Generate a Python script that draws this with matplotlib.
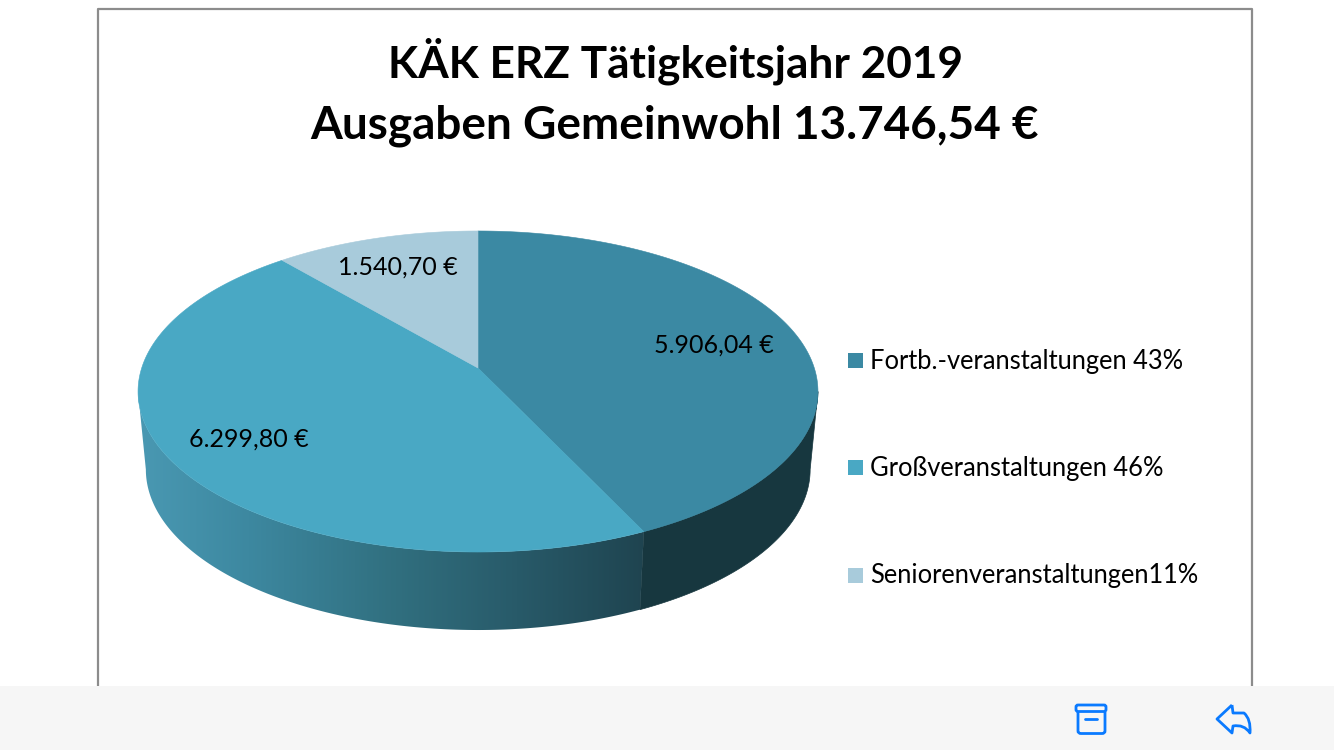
import numpy as np
import matplotlib
matplotlib.use('Agg')
import matplotlib.pyplot as plt
from matplotlib.colors import LinearSegmentedColormap
from matplotlib.patches import FancyBboxPatch, PathPatch, Polygon, Rectangle
from matplotlib.path import Path

plt.rcParams['font.family'] = ['Lato', 'DejaVu Sans']

title_lines = ['KÄK ERZ Tätigkeitsjahr 2019', 'Ausgaben Gemeinwohl 13.746,54 €']
values = [5906.04, 6299.80, 1540.70]
value_labels = ['5.906,04 €', '6.299,80 €', '1.540,70 €']
legend_labels = ['Fortb.-veranstaltungen 43%', 'Großveranstaltungen 46%', 'Seniorenveranstaltungen11%']
top_colors = ['#3b89a3', '#49a8c4', '#a8cbdb']

BLUE = '#0a7aff'
TILT = 0.1464


def top_rim(theta):
    # perspective view of the pie disc, theta runs clockwise from 12 o'clock
    u, v = np.sin(theta), np.cos(theta)
    w = 1 + TILT * v
    return 478 + 336.3 * u / w, (368 - 103.2 * v) / w


def bottom_rim(theta):
    x, y = top_rim(theta)
    return 478 + (x - 478) * 0.977, y + 78


fig = plt.figure(figsize=(13.34, 7.5), dpi=100)
ax = fig.add_axes([0, 0, 1, 1])
ax.set_xlim(0, 1334)
ax.set_ylim(750, 0)
ax.axis('off')

# chart frame, cut off by the bar at the bottom
ax.plot([98, 98, 1252, 1252], [686, 9, 9, 686], color='#8c8c8c', lw=1.6, zorder=1)

edges = 2 * np.pi * np.concatenate([[0], np.cumsum(values)]) / np.sum(values)

# side walls, only the front of the rim shows
right_limit = np.arccos(-TILT)
left_limit = 2 * np.pi - right_limit
side_cmap = LinearSegmentedColormap.from_list(
    'side', [(0, '#4a99b3'), (0.22, '#3d88a0'), (0.5, '#317080'), (0.75, '#285a69'), (1, '#1f4450')])
for i in range(2):
    t = np.linspace(max(edges[i], right_limit), min(edges[i + 1], left_limit), 300)
    xt, yt = top_rim(t)
    xb, yb = bottom_rim(t)
    pts = np.column_stack([np.r_[xt, xb[::-1]], np.r_[yt, yb[::-1]]])
    if i == 0:
        ax.add_patch(Polygon(pts, closed=True, fc='#17373f', ec='#17373f', lw=0.5, zorder=2))
    else:
        im = ax.imshow(np.linspace(0, 1, 256)[None, :], cmap=side_cmap, aspect='auto',
                       extent=[136, 645, 640, 230], zorder=2)
        im.set_clip_path(Polygon(pts, closed=True, transform=ax.transData))
ax.set_xlim(0, 1334)
ax.set_ylim(750, 0)

# top of the pie
apex = 478, 368
for i in range(3):
    t = np.linspace(edges[i], edges[i + 1], 300)
    x, y = top_rim(t)
    pts = np.column_stack([np.r_[apex[0], x], np.r_[apex[1], y]])
    ax.add_patch(Polygon(pts, closed=True, fc=top_colors[i], ec=top_colors[i], lw=0.4, zorder=3))

label_x = [714, 249, 398]
label_y = [345, 439, 267]
for lab, x, y in zip(value_labels, label_x, label_y):
    ax.text(x, y, lab, fontsize=18, color='black', ha='center', va='center', zorder=4)

for line, y, size in zip(title_lines, [61.5, 125.5], [31.8, 33.0]):
    ax.text(675, y, line, fontsize=size, fontweight='bold', color='black', ha='center', va='center')

# legend
for lab, col, y in zip(legend_labels, top_colors, [360, 467.5, 575]):
    ax.add_patch(Rectangle((848, y - 7.5), 15, 15, fc=col, ec='none'))
    ax.text(870, y + 1, lab, fontsize=18.4, color='black', ha='left', va='center')

# bottom bar with the mail icons
ax.add_patch(Rectangle((0, 686), 1334, 64, fc='#f6f6f6', ec='none', zorder=5))
ax.add_patch(FancyBboxPatch((1076, 705), 30, 6.5, boxstyle='round,pad=0,rounding_size=2',
                            fc='none', ec=BLUE, lw=2, zorder=6))
ax.add_patch(PathPatch(Path([(1078, 712), (1078, 731), (1078, 733.5), (1081, 733.5), (1102, 733.5),
                             (1105, 733.5), (1105, 731), (1105, 712)],
                            [Path.MOVETO, Path.LINETO, Path.CURVE3, Path.CURVE3, Path.LINETO,
                             Path.CURVE3, Path.CURVE3, Path.LINETO]),
                       fc='none', ec=BLUE, lw=2, zorder=6))
ax.plot([1085, 1097], [718.5, 718.5], color=BLUE, lw=2, solid_capstyle='round', zorder=6)
ax.add_patch(PathPatch(Path([(1232, 705), (1217, 719), (1232, 733), (1233, 726), (1244, 724), (1250, 733),
                             (1251, 719), (1244, 713), (1233, 713), (1232, 705)],
                            [Path.MOVETO, Path.LINETO, Path.LINETO, Path.LINETO, Path.CURVE3, Path.CURVE3,
                             Path.CURVE3, Path.CURVE3, Path.LINETO, Path.LINETO]),
                       fc='none', ec=BLUE, lw=2, joinstyle='round', zorder=6))

fig.savefig('out.png', dpi=100)
